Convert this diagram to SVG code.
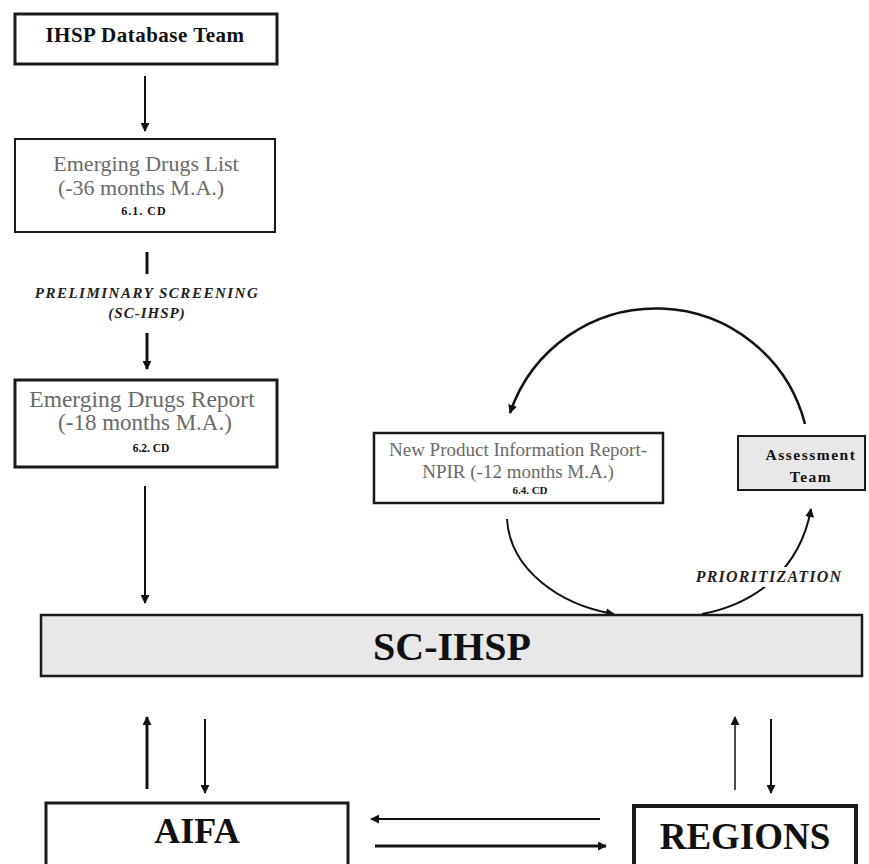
<svg xmlns="http://www.w3.org/2000/svg" width="869" height="864" viewBox="0 0 869 864">
<style>
text{font-family:"Liberation Serif","Times New Roman",serif;text-anchor:middle}
.b{font-weight:bold;fill:#111}
.g{fill:#6a6a6a}
.bi{font-weight:bold;font-style:italic;fill:#222}
.box{fill:#fff;stroke:#1a1a1a}
.gbox{fill:#e8e8e8;stroke:#1a1a1a}
.ln{fill:none;stroke:#111}
</style>
<defs>
<marker id="ah" viewBox="0 0 10 10" refX="9" refY="5" markerWidth="9" markerHeight="9" markerUnits="userSpaceOnUse" orient="auto">
<path d="M0,0 L10,5 L0,10 z" fill="#111"/>
</marker>
</defs>
<rect width="869" height="864" fill="#fff"/>

<g id="connectors">
<line class="ln" x1="145" y1="76" x2="145" y2="131" stroke-width="2" marker-end="url(#ah)"/>
<line class="ln" x1="147" y1="252" x2="147" y2="274" stroke-width="3"/>
<line class="ln" x1="147" y1="333" x2="147" y2="369" stroke-width="3" marker-end="url(#ah)"/>
<line class="ln" x1="145" y1="486" x2="145" y2="603" stroke-width="2" marker-end="url(#ah)"/>
<path class="ln" d="M 805 424 A 154 154 0 0 0 510 413" stroke-width="2.5" marker-end="url(#ah)"/>
<path class="ln" d="M 507 519 C 510 570, 560 605, 614 614" stroke-width="2" marker-end="url(#ah)"/>
<path class="ln" d="M 702 614 C 755 604, 800 570, 811 509" stroke-width="2" marker-end="url(#ah)"/>
<line class="ln" x1="147" y1="789" x2="147" y2="717" stroke-width="3" marker-end="url(#ah)"/>
<line class="ln" x1="205" y1="719" x2="205" y2="793" stroke-width="2" marker-end="url(#ah)"/>
<line class="ln" x1="735" y1="790" x2="735" y2="717" stroke-width="1.5" marker-end="url(#ah)"/>
<line class="ln" x1="771" y1="719" x2="771" y2="793" stroke-width="2" stroke="#444" marker-end="url(#ah)"/>
<line class="ln" x1="600" y1="819" x2="371" y2="819" stroke-width="2" marker-end="url(#ah)"/>
<line class="ln" x1="375" y1="846" x2="606" y2="846" stroke-width="3" marker-end="url(#ah)"/>
<rect x="688" y="567" width="162" height="20" fill="#fff"/>
<text class="bi" x="769" y="582" font-size="16" letter-spacing="1.2">PRIORITIZATION</text>
<text class="bi" x="147" y="298" font-size="15" letter-spacing="1.5">PRELIMINARY SCREENING</text>
<text class="bi" x="147" y="318" font-size="15" letter-spacing="1">(SC-IHSP)</text>
</g>

<g id="ihsp-team">
<rect class="box" x="15" y="14" width="262" height="50" stroke-width="3"/>
<text class="b" x="145" y="42" font-size="21" letter-spacing="0.5">IHSP Database Team</text>
</g>

<g id="drugs-list">
<rect class="box" x="15" y="139" width="260" height="93" stroke-width="2"/>
<text class="g" x="146" y="171" font-size="22" fill="#777">Emerging Drugs List</text>
<text class="g" x="141" y="195" font-size="22">(-36 months M.A.)</text>
<text class="b" x="144" y="215" font-size="12" letter-spacing="1">6.1. CD</text>
</g>

<g id="drugs-report">
<rect class="box" x="15" y="380" width="262" height="87" stroke-width="3"/>
<text class="g" x="142" y="407" font-size="23.5">Emerging Drugs Report</text>
<text class="g" x="145" y="430" font-size="23">(-18 months M.A.)</text>
<text class="b" x="151" y="452" font-size="11.5">6.2. CD</text>
</g>

<g id="npir">
<rect class="box" x="374" y="433" width="289" height="70" stroke-width="2.5"/>
<text class="g" x="518" y="456" font-size="19">New Product Information Report-</text>
<text class="g" x="518" y="478" font-size="19">NPIR (-12 months M.A.)</text>
<text class="b" x="530" y="494" font-size="11">6.4. CD</text>
</g>

<g id="assessment">
<rect class="gbox" x="738" y="436" width="127" height="54" stroke-width="2"/>
<text class="b" x="811" y="460" font-size="15.5" letter-spacing="1.5">Assessment</text>
<text class="b" x="811" y="482" font-size="15.5" letter-spacing="1.5">Team</text>
</g>

<g id="sc-ihsp">
<rect class="gbox" x="41" y="615" width="821" height="61" stroke-width="2.5"/>
<text class="b" x="452" y="660" font-size="40">SC-IHSP</text>
</g>

<g id="aifa">
<rect class="box" x="46" y="803" width="302" height="70" stroke-width="3"/>
<text class="b" x="197" y="843" font-size="36">AIFA</text>
</g>

<g id="regions">
<rect class="box" x="634" y="806" width="222" height="66" stroke-width="4"/>
<text class="b" x="745" y="849" font-size="37">REGIONS</text>
</g>
</svg>
